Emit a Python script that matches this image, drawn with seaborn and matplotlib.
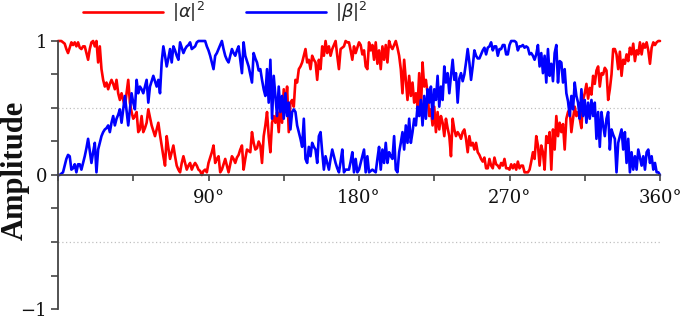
import matplotlib
matplotlib.use("Agg")
import matplotlib.pyplot as plt
import pandas as pd
import seaborn as sns
from matplotlib.ticker import MultipleLocator, FuncFormatter

angle_deg = list(range(0, 361))

alpha_sq = [
    1.00, 1.00, 1.00, 0.99, 0.98, 0.94, 0.91, 0.95, 0.99, 0.97,
    0.99, 0.96, 0.99, 0.95, 0.94, 0.96, 0.96, 0.91, 0.86, 0.94,
    0.99, 1.00, 0.96, 1.00, 0.84, 0.96, 0.79, 0.71, 0.66, 0.69,
    0.64, 0.68, 0.71, 0.68, 0.64, 0.71, 0.61, 0.56, 0.61, 0.56,
    0.51, 0.61, 0.71, 0.54, 0.47, 0.42, 0.44, 0.47, 0.32, 0.34,
    0.44, 0.32, 0.35, 0.39, 0.49, 0.43, 0.37, 0.33, 0.29, 0.34,
    0.39, 0.30, 0.22, 0.14, 0.07, 0.29, 0.20, 0.12, 0.17, 0.22,
    0.14, 0.07, 0.04, 0.02, 0.09, 0.14, 0.09, 0.04, 0.07, 0.09,
    0.04, 0.07, 0.09, 0.07, 0.04, 0.03, 0.00, 0.03, 0.04, 0.02,
    0.09, 0.13, 0.17, 0.22, 0.09, 0.12, 0.14, 0.02, 0.04, 0.08,
    0.12, 0.07, 0.02, 0.08, 0.14, 0.12, 0.09, 0.13, 0.15, 0.19,
    0.22, 0.04, 0.12, 0.19, 0.18, 0.17, 0.32, 0.24, 0.19, 0.20,
    0.25, 0.22, 0.09, 0.29, 0.37, 0.47, 0.29, 0.17, 0.39, 0.44,
    0.39, 0.47, 0.32, 0.54, 0.39, 0.64, 0.47, 0.66, 0.32, 0.54,
    0.56, 0.51, 0.71, 0.69, 0.79, 0.81, 0.84, 0.89, 0.94, 0.84,
    0.86, 0.79, 0.89, 0.86, 0.84, 0.71, 0.86, 0.79, 0.96, 0.89,
    1.00, 0.91, 0.96, 0.89, 0.94, 0.97, 1.00, 0.89, 0.79, 0.94,
    0.95, 0.96, 1.00, 0.99, 0.99, 0.93, 0.86, 0.96, 0.91, 0.95,
    0.99, 0.97, 0.90, 0.93, 0.81, 0.79, 0.99, 0.93, 0.97, 0.86,
    0.99, 0.83, 0.93, 0.79, 0.96, 0.86, 0.97, 0.84, 1.00, 0.96,
    0.94, 0.97, 1.00, 0.95, 0.89, 0.79, 0.61, 0.86, 0.71, 0.56,
    0.74, 0.59, 0.69, 0.54, 0.61, 0.51, 0.76, 0.47, 0.84, 0.66,
    0.71, 0.61, 0.44, 0.49, 0.37, 0.51, 0.32, 0.47, 0.34, 0.44,
    0.39, 0.29, 0.42, 0.35, 0.29, 0.14, 0.42, 0.34, 0.29, 0.32,
    0.30, 0.27, 0.32, 0.34, 0.27, 0.17, 0.29, 0.22, 0.24, 0.19,
    0.24, 0.17, 0.15, 0.12, 0.10, 0.13, 0.05, 0.05, 0.12, 0.07,
    0.05, 0.13, 0.08, 0.07, 0.05, 0.09, 0.07, 0.12, 0.05, 0.05,
    0.04, 0.08, 0.05, 0.08, 0.04, 0.10, 0.05, 0.07, 0.07, 0.02,
    0.02, 0.02, 0.04, 0.10, 0.17, 0.12, 0.29, 0.22, 0.07, 0.22,
    0.17, 0.04, 0.29, 0.24, 0.32, 0.04, 0.34, 0.19, 0.44, 0.29,
    0.39, 0.32, 0.38, 0.19, 0.42, 0.47, 0.49, 0.32, 0.42, 0.51,
    0.44, 0.47, 0.42, 0.35, 0.56, 0.61, 0.68, 0.57, 0.65, 0.60,
    0.74, 0.68, 0.78, 0.81, 0.66, 0.76, 0.75, 0.80, 0.78, 0.56,
    0.64, 0.75, 0.94, 0.94, 0.90, 0.79, 0.92, 0.74, 0.86, 0.83,
    0.90, 0.85, 0.95, 0.90, 0.98, 0.85, 0.93, 0.90, 0.99, 0.90,
    0.98, 0.95, 0.99, 0.93, 0.83, 0.95, 0.99, 0.97, 0.99, 1.00,
    1.00]

beta_sq = [
    0.00, 0.00, 0.01, 0.02, 0.07, 0.12, 0.15, 0.14, 0.04, 0.05,
    0.08, 0.02, 0.08, 0.08, 0.04, 0.09, 0.14, 0.20, 0.27, 0.18,
    0.09, 0.17, 0.24, 0.02, 0.19, 0.24, 0.29, 0.32, 0.34, 0.35,
    0.37, 0.32, 0.39, 0.44, 0.37, 0.42, 0.45, 0.49, 0.39, 0.49,
    0.59, 0.48, 0.37, 0.49, 0.61, 0.54, 0.49, 0.71, 0.61, 0.66,
    0.64, 0.61, 0.66, 0.71, 0.54, 0.66, 0.70, 0.74, 0.70, 0.66,
    0.71, 0.61, 0.84, 0.96, 0.89, 0.81, 0.87, 0.94, 0.84, 0.96,
    0.93, 0.89, 0.86, 0.99, 0.95, 0.91, 0.94, 0.96, 0.97, 0.99,
    0.94, 0.95, 0.96, 0.99, 1.00, 1.00, 1.00, 1.00, 1.00, 0.96,
    0.93, 0.89, 0.84, 0.79, 0.89, 0.91, 0.94, 0.97, 1.00, 0.94,
    0.89, 0.86, 0.84, 0.89, 0.94, 0.91, 0.89, 0.93, 0.96, 0.86,
    0.76, 0.99, 0.89, 0.85, 0.81, 0.75, 0.69, 0.91, 0.87, 0.84,
    0.78, 0.79, 0.71, 0.64, 0.59, 0.79, 0.54, 0.86, 0.42, 0.74,
    0.59, 0.44, 0.66, 0.47, 0.59, 0.42, 0.61, 0.44, 0.54, 0.34,
    0.47, 0.49, 0.47, 0.37, 0.32, 0.27, 0.21, 0.42, 0.12, 0.09,
    0.21, 0.14, 0.24, 0.21, 0.19, 0.09, 0.29, 0.32, 0.17, 0.04,
    0.14, 0.09, 0.04, 0.12, 0.19, 0.14, 0.09, 0.05, 0.02, 0.10,
    0.19, 0.02, 0.04, 0.04, 0.04, 0.10, 0.17, 0.02, 0.12, 0.02,
    0.04, 0.09, 0.14, 0.19, 0.02, 0.14, 0.02, 0.03, 0.04, 0.03,
    0.02, 0.12, 0.21, 0.04, 0.19, 0.09, 0.24, 0.09, 0.17, 0.14,
    0.12, 0.29, 0.04, 0.02, 0.17, 0.24, 0.32, 0.19, 0.37, 0.24,
    0.42, 0.24, 0.32, 0.42, 0.37, 0.51, 0.44, 0.56, 0.37, 0.59,
    0.42, 0.64, 0.54, 0.66, 0.42, 0.64, 0.56, 0.74, 0.51, 0.66,
    0.56, 0.81, 0.69, 0.76, 0.61, 0.74, 0.86, 0.71, 0.76, 0.54,
    0.72, 0.76, 0.70, 0.75, 0.84, 0.94, 0.84, 0.71, 0.81, 0.93,
    0.89, 0.87, 0.87, 0.90, 0.93, 0.95, 0.90, 0.95, 0.96, 0.99,
    0.93, 0.96, 0.96, 0.89, 0.94, 0.94, 0.97, 0.97, 0.90, 0.90,
    0.97, 1.00, 1.00, 1.00, 0.99, 0.93, 0.96, 0.96, 0.97, 0.95,
    0.96, 0.95, 0.90, 0.91, 0.89, 0.86, 0.90, 0.97, 0.81, 0.91,
    0.76, 0.89, 0.69, 0.94, 0.74, 0.83, 0.70, 0.91, 0.97, 0.69,
    0.85, 0.84, 0.69, 0.79, 0.61, 0.55, 0.44, 0.59, 0.49, 0.69,
    0.59, 0.54, 0.42, 0.64, 0.44, 0.56, 0.39, 0.54, 0.42, 0.56,
    0.44, 0.54, 0.27, 0.47, 0.21, 0.47, 0.37, 0.29, 0.42, 0.47,
    0.19, 0.34, 0.30, 0.27, 0.02, 0.24, 0.29, 0.34, 0.19, 0.32,
    0.09, 0.27, 0.02, 0.17, 0.04, 0.14, 0.04, 0.19, 0.13, 0.07,
    0.14, 0.04, 0.17, 0.19, 0.09, 0.14, 0.04, 0.09, 0.02, 0.02,
    0.00]

series_labels = [r'$|\alpha|^2$', r'$|\beta|^2$']
x_tick_labels = {90: "90°", 180: "180°", 270: "270°", 360: "360°"}
y_tick_labels = {1.0: "1", 0.0: "0", -1.0: "\u22121"}

sns.set_style("ticks")
plt.rcParams['font.family'] = ['DejaVu Serif', 'DejaVu Sans']
plt.rcParams['mathtext.fontset'] = 'dejavusans'

df = pd.DataFrame({'angle': angle_deg, 'alpha': alpha_sq, 'beta': beta_sq})

fig = plt.figure(figsize=(6.9, 3.19), dpi=100)
ax = fig.add_axes([58/690, 10/319, 602/690, 268/319])

sns.lineplot(data=df, x='angle', y='alpha', color='#ff0000', lw=1.9, ax=ax,
             label=series_labels[0], clip_on=False)
sns.lineplot(data=df, x='angle', y='beta', color='#0000ff', lw=1.9, ax=ax,
             label=series_labels[1], clip_on=False)

ax.set_xlim(0, 360)
ax.set_ylim(-1, 1)
for yv in (0.5, -0.5):
    ax.axhline(yv, ls=(0, (1, 2)), color='#c0c0c0', lw=0.9, zorder=0)

ax.spines['bottom'].set_position(('data', 0))
ax.spines['top'].set_visible(False)
ax.spines['right'].set_visible(False)
for s in ('left', 'bottom'):
    ax.spines[s].set_color('#444444')
    ax.spines[s].set_linewidth(1.3)

ax.xaxis.set_major_locator(MultipleLocator(45))
ax.xaxis.set_major_formatter(FuncFormatter(
    lambda v, p: x_tick_labels.get(int(round(v)), "")))
ax.yaxis.set_major_locator(MultipleLocator(0.25))
ax.yaxis.set_major_formatter(FuncFormatter(
    lambda v, p: y_tick_labels.get(round(v, 2), "")))
ax.tick_params(axis='x', direction='out', length=4, width=1.2, color='#444444',
               labelsize=13, pad=6, labelcolor='#111111')
ax.tick_params(axis='y', direction='out', length=5, width=1.2, color='#444444',
               labelsize=13, pad=3, labelcolor='#111111')

ax.set_xlabel('')
ax.set_ylabel('')
fig.text(15/690, (319 - 170)/319, 'Amplitude', rotation=90, ha='center',
         va='center', fontsize=22, fontweight='bold', color='#111111',
         family=['Liberation Serif', 'DejaVu Serif'])

handles, labels = ax.get_legend_handles_labels()
ax.get_legend().remove()
fig.legend(handles, labels, loc='upper left', bbox_to_anchor=(0.097, 1.05),
           ncol=2, frameon=False, fontsize=13, handlelength=4.4,
           handletextpad=0.5, columnspacing=2.3)

fig.savefig('out.png', dpi=100)
